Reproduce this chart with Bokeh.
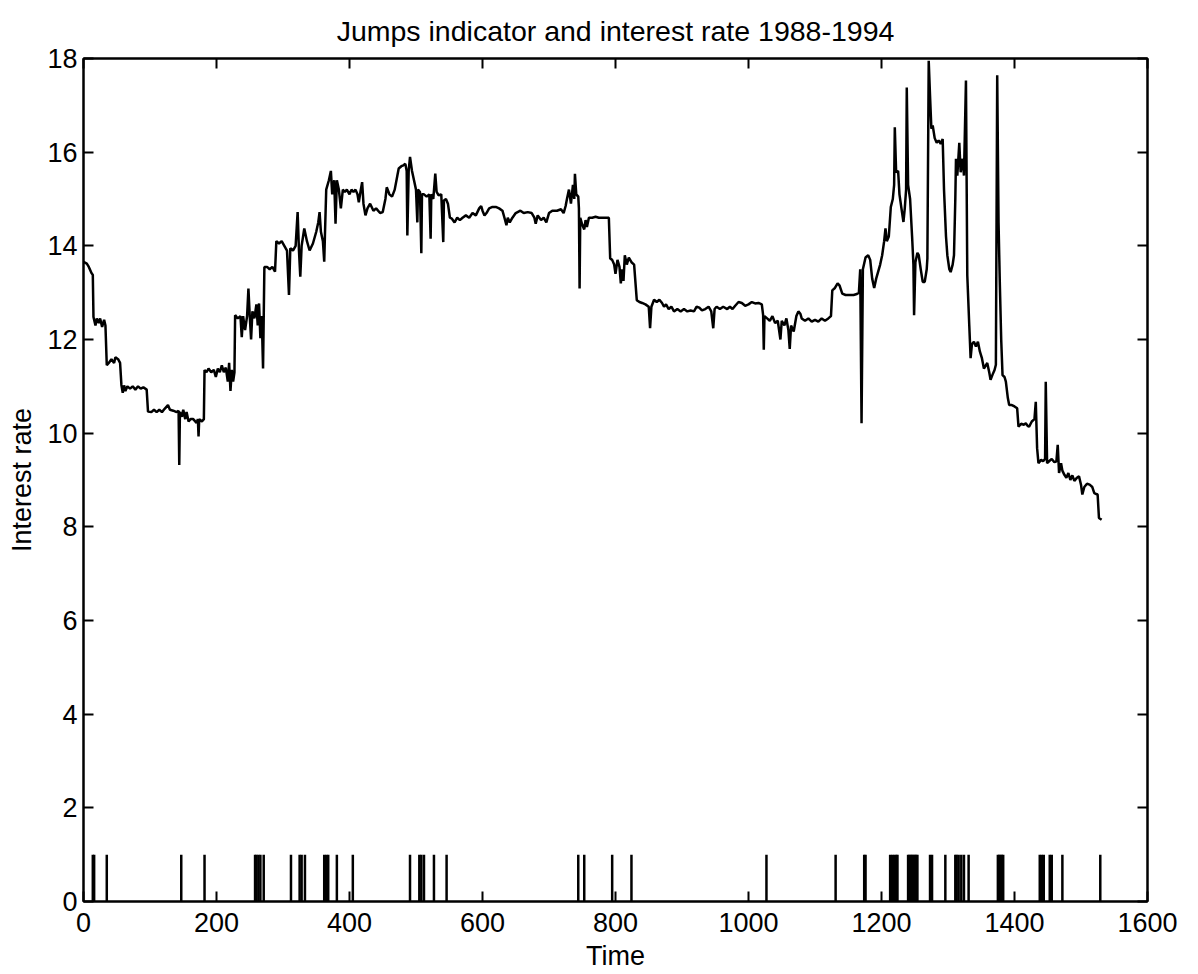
from bokeh.plotting import figure
from bokeh.models import LinearAxis, FixedTicker, Range1d
from bokeh.embed import file_html
from bokeh.resources import INLINE

# ---- data ----
rate_t = [0,5,8,12,14,15,18,20,23,25,28,31,33,35,38,42,46,48,52,55,57,59,61,63,66,70,74,78,82,86,90,95,
          97,102,106,110,114,118,122,127,130,135,140,143,144,145,148,150,153,155,158,161,165,170,172,173,174,178,181,
          182,185,188,192,196,199,202,205,208,211,214,217,219,221,223,225,227,228,232,236,238,240,243,246,248,250,252,
          254,257,260,262,264,266,268,270,272,276,280,284,288,290,294,298,302,306,309,311,315,319,322,324,326,328,332,
          336,340,345,350,353,355,357,360,362,363,365,369,372,374,377,379,381,384,387,390,393,396,400,403,406,409,
          412,414,417,419,421,424,427,431,436,440,446,450,454,456,460,464,468,472,474,478,481,484,486,487,489,491,494,
          497,500,502,503,506,508,509,512,516,520,522,523,526,529,531,534,538,541,542,545,548,551,554,558,562,566,570,
          575,580,585,590,595,598,600,603,606,610,615,620,625,630,633,636,638,641,645,650,657,662,668,674,678,680,683,
          688,692,696,700,705,712,718,722,725,727,730,733,736,738,739,741,744,745,746,747,750,753,755,757,760,765,770,
          775,780,785,790,792,795,798,800,803,806,808,810,812,814,817,820,824,828,832,836,840,845,850,852,854,858,862,
          866,870,873,876,880,884,888,893,898,903,908,913,918,922,926,930,935,940,944,947,949,952,957,962,968,972,976,
          980,985,990,995,1000,1005,1010,1015,1020,1022,1023,1024,1028,1032,1036,1040,1044,1048,1050,1054,1057,1060,
          1062,1064,1068,1072,1075,1078,1080,1085,1090,1095,1100,1105,1110,1115,1120,1124,1126,1130,1134,1137,1141,
          1146,1152,1158,1163,1166,1168,1170,1172,1176,1180,1183,1186,1189,1192,1195,1198,1201,1204,1206,1208,1211,
          1214,1217,1219,1220,1222,1225,1227,1230,1233,1235,1237,1238,1240,1243,1246,1248,1249,1251,1254,1256,1259,
          1262,1265,1268,1269,1271,1273,1275,1277,1280,1283,1286,1289,1292,1294,1297,1299,1302,1304,1307,1309,1311,
          1312,1314,1317,1319,1322,1324,1327,1329,1332,1334,1336,1339,1342,1345,1348,1351,1354,1357,1359,1362,1364,
          1367,1370,1372,1374,1376,1378,1380,1382,1385,1387,1390,1392,1396,1400,1404,1406,1410,1414,1417,1420,1422,
          1426,1430,1432,1434,1436,1440,1443,1446,1447,1449,1452,1456,1460,1463,1465,1467,1470,1472,1475,1478,1481,
          1484,1487,1490,1494,1497,1500,1502,1505,1509,1513,1517,1520,1523,1525,1527,1531]
rate_v = [13.66,13.62,13.55,13.42,13.38,12.48,12.3,12.45,12.35,12.45,12.27,12.42,12.3,11.45,11.5,11.58,11.5,11.62,11.58,11.5,11.03,10.86,11.02,10.9,11.0,10.95,11.0,10.93,11.0,10.95,10.98,10.93,
          10.46,10.45,10.5,10.45,10.5,10.45,10.52,10.6,10.5,10.48,10.45,10.48,9.32,10.45,10.35,10.5,10.3,10.45,10.25,10.3,10.3,10.22,10.3,9.93,10.3,10.25,10.3,
          11.35,11.3,11.38,11.3,11.35,11.2,11.38,11.3,11.45,11.3,11.4,11.1,11.5,10.9,11.35,11.1,11.3,12.52,12.45,12.5,12.05,12.5,12.2,12.5,13.09,12.5,12.0,
          12.6,12.45,12.75,12.3,12.77,12.03,12.5,11.38,13.55,13.55,13.5,13.55,13.45,14.1,14.05,14.1,14.0,13.9,12.95,13.95,13.9,14.0,14.72,13.9,13.34,14.0,14.37,
          14.1,13.9,14.05,14.3,14.5,14.72,14.3,14.1,13.66,14.2,15.2,15.4,15.6,15.1,15.4,14.47,15.4,15.2,14.8,15.2,15.15,15.2,15.1,15.2,15.15,15.2,
          15.1,14.93,15.2,15.36,14.9,14.65,14.8,14.9,14.75,14.8,14.7,14.72,15.0,15.25,15.1,15.05,15.2,15.5,15.65,15.7,15.72,15.75,15.6,14.22,15.6,15.9,15.6,
          15.4,15.2,14.5,15.2,15.15,13.84,15.1,15.1,15.05,15.1,14.15,15.1,15.0,15.54,15.15,15.08,15.1,14.08,14.97,15.0,14.9,14.6,14.58,14.5,14.6,14.55,14.6,
          14.65,14.6,14.7,14.65,14.8,14.85,14.75,14.65,14.7,14.8,14.83,14.83,14.8,14.75,14.6,14.44,14.6,14.5,14.6,14.7,14.75,14.7,14.72,14.7,14.6,14.47,14.65,
          14.55,14.6,14.5,14.7,14.75,14.75,14.78,14.7,14.85,15.0,15.2,14.9,15.3,15.0,15.54,15.1,15.05,14.8,13.09,14.6,14.45,14.35,14.55,14.4,14.6,14.6,14.62,
          14.6,14.6,14.6,14.6,13.73,13.7,13.6,13.4,13.7,13.55,13.2,13.5,13.25,13.8,13.6,13.75,13.65,13.6,12.84,12.8,12.78,12.75,12.7,12.24,12.7,12.85,12.8,
          12.85,12.78,12.7,12.75,12.65,12.7,12.6,12.65,12.6,12.65,12.6,12.62,12.6,12.7,12.68,12.62,12.65,12.7,12.6,12.24,12.65,12.7,12.65,12.7,12.65,12.7,12.65,
          12.72,12.8,12.78,12.72,12.75,12.8,12.77,12.78,12.75,12.52,11.78,12.5,12.45,12.4,12.5,12.35,12.4,12.0,12.4,12.3,12.45,12.2,
          11.8,12.3,12.17,12.5,12.6,12.55,12.45,12.4,12.45,12.38,12.42,12.38,12.45,12.4,12.45,12.5,13.05,13.1,13.2,13.15,12.98,
          12.95,12.95,12.95,12.97,13.0,13.5,10.21,13.5,13.75,13.8,13.7,13.3,13.1,13.3,13.45,13.6,13.8,14.1,14.37,14.1,14.2,
          14.83,15.0,15.3,16.53,15.57,15.6,15.1,14.8,14.51,14.8,15.2,17.38,15.3,15.0,14.2,13.6,12.52,13.65,13.85,13.8,13.5,
          13.23,13.23,13.5,13.73,17.95,17.2,16.5,16.57,16.3,16.2,16.25,16.18,16.28,15.2,14.2,13.8,13.5,13.44,13.6,13.8,15.0,
          15.86,15.5,16.2,15.57,15.86,15.5,17.53,13.37,12.3,11.6,11.9,11.95,11.85,11.95,11.74,11.6,11.38,11.45,11.5,11.3,11.14,
          11.25,11.35,11.46,17.64,14.5,13.16,12.0,11.24,11.2,11.1,10.75,10.6,10.6,10.57,10.53,10.14,10.2,10.18,10.21,10.15,10.14,
          10.25,10.3,10.67,9.68,9.36,9.43,9.4,9.45,11.1,9.36,9.4,9.45,9.38,9.4,9.75,9.15,9.36,9.2,9.11,9.05,9.15,
          9.0,9.1,8.98,9.05,9.08,8.9,8.69,8.85,8.92,8.9,8.85,8.72,8.7,8.69,8.19,8.15]

jump_t = [14, 16, 35, 147, 182, 258, 260, 263, 266, 271, 312, 325, 328, 333, 362, 365, 368, 381, 405,
          491, 505, 508, 512, 527, 546, 744, 753, 795, 824, 1027, 1131, 1174, 1176, 1213, 1216, 1219, 1222,
          1224, 1240, 1242, 1244, 1246, 1248, 1250, 1252, 1254, 1273, 1276, 1296, 1311, 1313, 1316, 1320,
          1324, 1331, 1375, 1377, 1379, 1381, 1383, 1438, 1441, 1444, 1453, 1456, 1472, 1529]
jump_value = 1

x_ticks = [0, 200, 400, 600, 800, 1000, 1200, 1400, 1600]
y_ticks = [0, 2, 4, 6, 8, 10, 12, 14, 16, 18]

title_text = "Jumps indicator and interest rate 1988-1994"
x_label = "Time"
y_label = "Interest rate"

FONT = "Liberation Sans"
FS = "27px"

p = figure(width=1198, height=974, output_backend="svg", toolbar_location=None,
           x_range=Range1d(0, 1600), y_range=Range1d(0, 18), title=title_text,
           min_border_left=83, min_border_right=51, min_border_top=56, min_border_bottom=73)
p.background_fill_color = "white"
p.border_fill_color = "white"
p.outline_line_color = "black"
p.outline_line_width = 2
p.xgrid.visible = False
p.ygrid.visible = False

p.title.text_font = FONT
p.title.text_font_size = "28.5px"
p.title.text_font_style = "normal"
p.title.text_color = "black"
p.title.align = "center"
p.title.standoff = 24
p.title.text_line_height = 0.9

def style_axis(ax, ticks, show_labels=True):
    ax.ticker = FixedTicker(ticks=ticks)
    ax.major_tick_in = 10
    ax.major_tick_out = 0
    ax.minor_tick_line_color = None
    ax.major_tick_line_width = 2
    ax.major_tick_line_color = "black"
    ax.axis_line_width = 2
    ax.axis_line_color = "black"
    ax.major_label_text_font = FONT
    if show_labels:
        ax.major_label_text_color = "black"
        ax.major_label_text_font_size = FS
        ax.major_label_standoff = 6
    else:
        ax.major_label_text_color = None
        ax.major_label_text_font_size = "0px"
        ax.major_label_standoff = 0

style_axis(p.xaxis[0], x_ticks)
style_axis(p.yaxis[0], y_ticks)
p.xaxis[0].major_label_standoff = 11
p.xaxis[0].axis_label = x_label
p.yaxis[0].axis_label = y_label
for ax in (p.xaxis[0], p.yaxis[0]):
    ax.axis_label_text_font = FONT
    ax.axis_label_text_font_size = FS
    ax.axis_label_text_font_style = "normal"
    ax.axis_label_text_color = "black"
p.xaxis[0].axis_label_standoff = 6
p.yaxis[0].axis_label_standoff = 7

top_ax = LinearAxis()
style_axis(top_ax, x_ticks, show_labels=False)
p.add_layout(top_ax, "above")
right_ax = LinearAxis()
style_axis(right_ax, y_ticks, show_labels=False)
p.add_layout(right_ax, "right")

p.line(rate_t, rate_v, line_color="black", line_width=2.5)
p.segment(x0=jump_t, y0=[0] * len(jump_t), x1=jump_t, y1=[jump_value] * len(jump_t),
          line_color="black", line_width=2.5)

open("out.html", "w").write(file_html(p, INLINE))
